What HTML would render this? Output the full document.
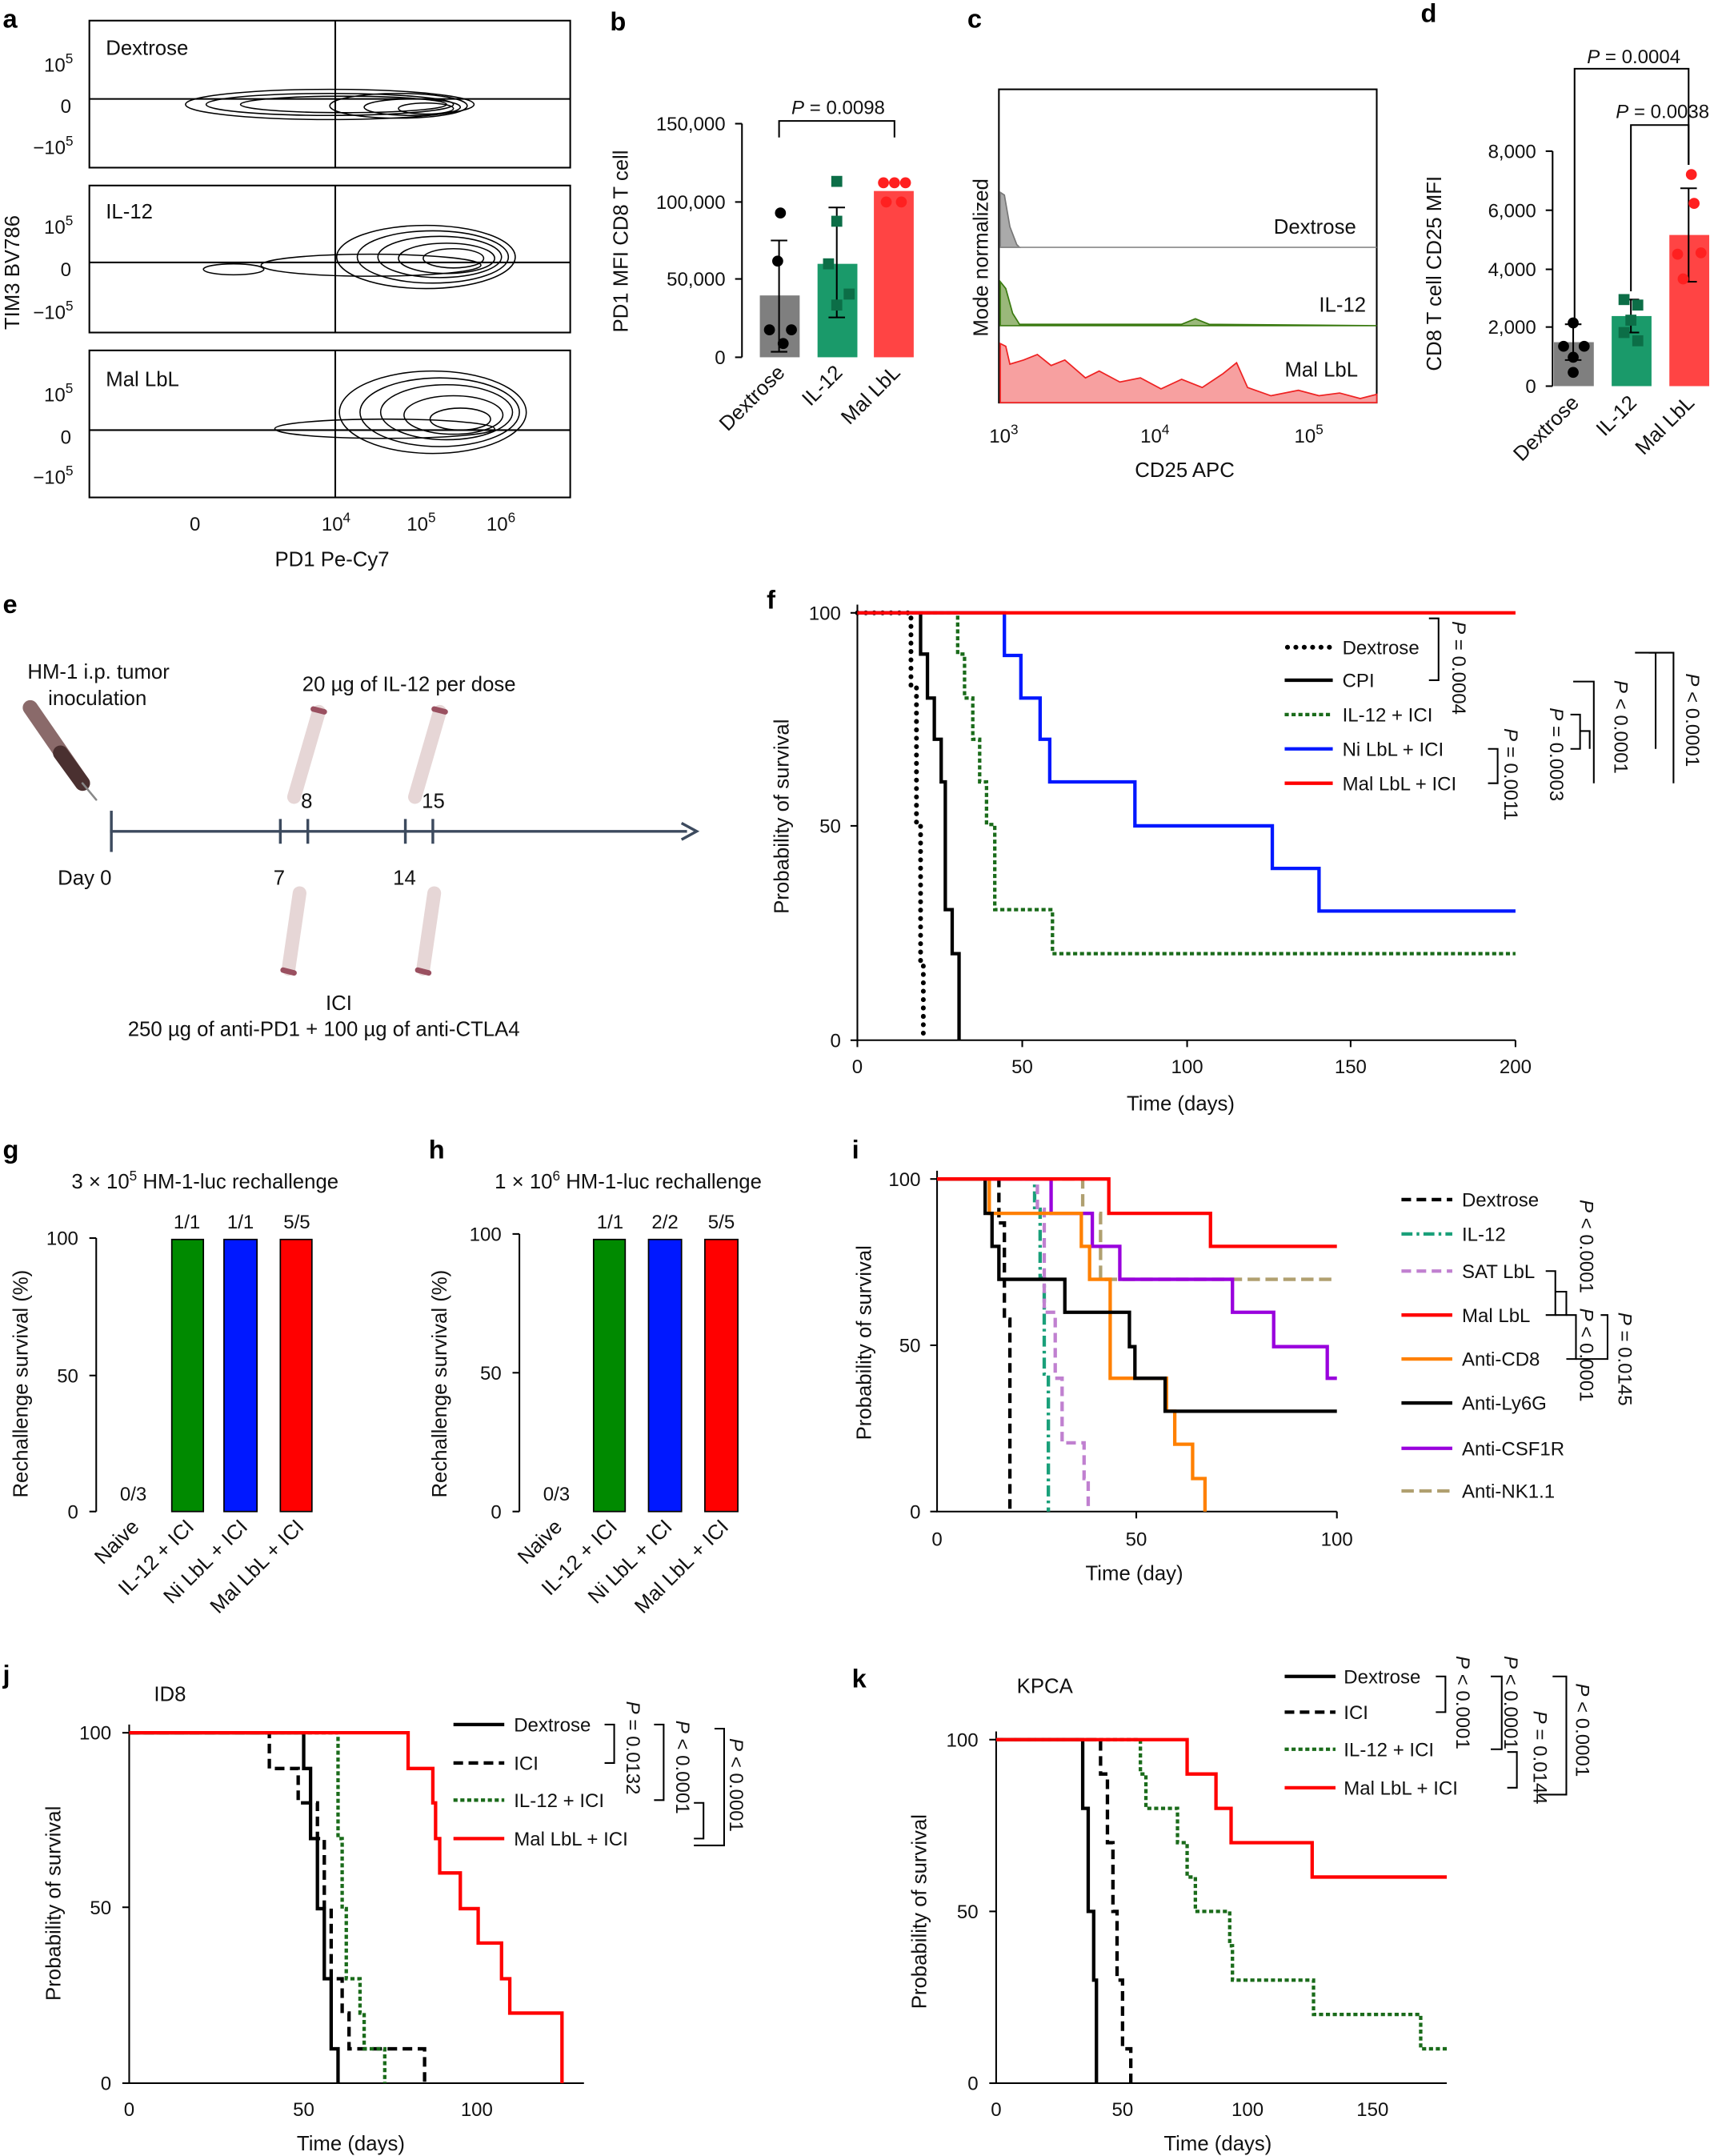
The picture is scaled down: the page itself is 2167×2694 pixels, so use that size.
<!DOCTYPE html>
<html><head><meta charset="utf-8"><style>
html,body{margin:0;padding:0;background:#fff;}
svg{display:block;font-family:"Liberation Sans",sans-serif;}
.t{font-size:14px;fill:#111}
.l{font-size:15px;fill:#111}
.p{font-size:19px;font-weight:bold;fill:#000}
.ax{stroke:#000;stroke-width:1.2;fill:none}
</style></head><body>
<svg width="2167" height="2694" viewBox="0 0 1262 1569" xmlns="http://www.w3.org/2000/svg">
<text class="p" x="2" y="20">a</text><text class="p" x="444" y="22">b</text><text class="p" x="704" y="20">c</text><text class="p" x="1034" y="16">d</text>
<text class="p" x="2" y="446">e</text><text class="p" x="558" y="443">f</text><text class="p" x="2" y="843">g</text><text class="p" x="312" y="843">h</text>
<text class="p" x="620" y="843">i</text><text class="p" x="2" y="1225">j</text><text class="p" x="620" y="1228">k</text>

<g>
<rect x="65" y="15" width="350" height="107" class="ax"/>
<rect x="65" y="135" width="350" height="107" class="ax"/>
<rect x="65" y="255" width="350" height="107" class="ax"/>
<line x1="65" y1="72" x2="415" y2="72" class="ax"/><line x1="244" y1="15" x2="244" y2="122" class="ax"/>
<line x1="65" y1="191" x2="415" y2="191" class="ax"/><line x1="244" y1="135" x2="244" y2="242" class="ax"/>
<line x1="65" y1="313" x2="415" y2="313" class="ax"/><line x1="244" y1="255" x2="244" y2="362" class="ax"/>
<text class="l" x="77" y="40">Dextrose</text><text class="l" x="77" y="159">IL-12</text><text class="l" x="77" y="281">Mal LbL</text>
<g fill="none" stroke="#000" stroke-width="0.9">
<ellipse cx="240" cy="76" rx="105" ry="11"/><ellipse cx="240" cy="76" rx="90" ry="8"/><ellipse cx="250" cy="76" rx="75" ry="6"/><ellipse cx="290" cy="77" rx="50" ry="9"/><ellipse cx="300" cy="78" rx="35" ry="6"/><ellipse cx="310" cy="79" rx="20" ry="4"/>
<ellipse cx="310" cy="187" rx="65" ry="23"/><ellipse cx="315" cy="187" rx="55" ry="19"/><ellipse cx="320" cy="187" rx="45" ry="15"/><ellipse cx="325" cy="188" rx="35" ry="11"/><ellipse cx="330" cy="188" rx="22" ry="7"/><ellipse cx="170" cy="196" rx="22" ry="4"/><ellipse cx="270" cy="193" rx="80" ry="8"/>
<ellipse cx="315" cy="300" rx="68" ry="30"/><ellipse cx="320" cy="300" rx="58" ry="25"/><ellipse cx="325" cy="300" rx="48" ry="20"/><ellipse cx="330" cy="302" rx="36" ry="14"/><ellipse cx="335" cy="305" rx="22" ry="8"/><ellipse cx="280" cy="312" rx="80" ry="7"/>
</g>
<g class="t"><text x="32" y="52">10<tspan font-size="10" dy="-6">5</tspan></text><text x="44" y="82">0</text><text x="24" y="112">−10<tspan font-size="10" dy="-6">5</tspan></text>
<text x="32" y="170">10<tspan font-size="10" dy="-6">5</tspan></text><text x="44" y="201">0</text><text x="24" y="232">−10<tspan font-size="10" dy="-6">5</tspan></text>
<text x="32" y="292">10<tspan font-size="10" dy="-6">5</tspan></text><text x="44" y="323">0</text><text x="24" y="352">−10<tspan font-size="10" dy="-6">5</tspan></text>
<text x="138" y="386">0</text><text x="234" y="386">10<tspan font-size="10" dy="-6">4</tspan></text><text x="296" y="386">10<tspan font-size="10" dy="-6">5</tspan></text><text x="354" y="386">10<tspan font-size="10" dy="-6">6</tspan></text></g>
<text class="l" x="200" y="412">PD1 Pe-Cy7</text>
<text class="l" transform="translate(14,240) rotate(-90)">TIM3 BV786</text>
</g>

<g>
<line x1="540" y1="90" x2="540" y2="260" class="ax"/>
<g class="ax"><line x1="535" y1="90" x2="540" y2="90"/><line x1="535" y1="147" x2="540" y2="147"/><line x1="535" y1="203" x2="540" y2="203"/><line x1="535" y1="260" x2="540" y2="260"/></g>
<g class="t" text-anchor="end"><text x="528" y="95">150,000</text><text x="528" y="152">100,000</text><text x="528" y="208">50,000</text><text x="528" y="265">0</text></g>
<rect x="553" y="215" width="29" height="45" fill="#7f7f7f"/><rect x="595" y="192" width="29" height="68" fill="#1a9a6a"/><rect x="636" y="139" width="29" height="121" fill="#ff4444"/>
<g stroke="#000" stroke-width="1.2"><line x1="567" y1="175" x2="567" y2="256"/><line x1="561" y1="175" x2="573" y2="175"/><line x1="561" y1="256" x2="573" y2="256"/>
<line x1="609" y1="151" x2="609" y2="231"/><line x1="603" y1="151" x2="615" y2="151"/><line x1="603" y1="231" x2="615" y2="231"/></g>
<g fill="#000"><circle cx="568" cy="155" r="4"/><circle cx="566" cy="190" r="4"/><circle cx="560" cy="240" r="4"/><circle cx="576" cy="240" r="4"/><circle cx="570" cy="250" r="4"/></g>
<g fill="#0c6e47"><rect x="605" y="128" width="8" height="8"/><rect x="605" y="157" width="8" height="8"/><rect x="599" y="188" width="8" height="8"/><rect x="614" y="210" width="8" height="8"/><rect x="605" y="218" width="8" height="8"/></g>
<g fill="#ff2020"><circle cx="643" cy="133" r="4"/><circle cx="651" cy="133" r="4"/><circle cx="659" cy="133" r="4"/><circle cx="645" cy="147" r="4"/><circle cx="656" cy="147" r="4"/></g>
<path d="M567 100 V88 H651 V100" class="ax"/><text class="t" x="576" y="83"><tspan font-style="italic">P</tspan> = 0.0098</text>
<g class="l"><text transform="translate(572,272) rotate(-45)" text-anchor="end">Dextrose</text><text transform="translate(614,272) rotate(-45)" text-anchor="end">IL-12</text><text transform="translate(656,272) rotate(-45)" text-anchor="end">Mal LbL</text></g>
<text class="l" transform="translate(457,242) rotate(-90)">PD1 MFI CD8 T cell</text>
</g>

<g>
<rect x="727" y="65" width="275" height="228" class="ax"/>
<path d="M728 180 L728 140 L731 142 L735 165 L740 178 L742 180 Z" fill="#aaa" stroke="#777"/>
<line x1="728" y1="180" x2="1002" y2="180" stroke="#888"/>
<path d="M728 237 L728 205 L732 210 L737 228 L742 236 L860 236 L870 232 L880 236 L1002 237 Z" fill="#9ab87a" stroke="#3a7a10"/>
<path d="M728 293 L728 250 L732 252 L735 265 L745 262 L755 258 L765 266 L775 262 L790 275 L800 270 L815 278 L830 275 L845 283 L860 276 L875 282 L890 272 L900 264 L908 282 L925 288 L945 284 L960 288 L975 286 L990 290 L1002 287 L1002 293 Z" fill="#f7a0a0" stroke="#e22"/>
<text class="l" x="927" y="170">Dextrose</text><text class="l" x="960" y="227">IL-12</text><text class="l" x="935" y="274">Mal LbL</text>
<g class="t"><text x="720" y="322">10<tspan font-size="10" dy="-6">3</tspan></text><text x="830" y="322">10<tspan font-size="10" dy="-6">4</tspan></text><text x="942" y="322">10<tspan font-size="10" dy="-6">5</tspan></text></g>
<text class="l" x="826" y="347">CD25 APC</text>
<text class="l" transform="translate(719,245) rotate(-90)">Mode normalized</text>
</g>

<g>
<line x1="1130" y1="110" x2="1130" y2="281" class="ax"/>
<g class="ax"><line x1="1125" y1="110" x2="1130" y2="110"/><line x1="1125" y1="153" x2="1130" y2="153"/><line x1="1125" y1="196" x2="1130" y2="196"/><line x1="1125" y1="238" x2="1130" y2="238"/><line x1="1125" y1="281" x2="1130" y2="281"/></g>
<g class="t" text-anchor="end"><text x="1118" y="115">8,000</text><text x="1118" y="158">6,000</text><text x="1118" y="201">4,000</text><text x="1118" y="243">2,000</text><text x="1118" y="286">0</text></g>
<rect x="1131" y="249" width="29" height="32" fill="#7f7f7f"/><rect x="1173" y="230" width="29" height="51" fill="#1a9a6a"/><rect x="1215" y="171" width="29" height="110" fill="#ff4444"/>
<g stroke="#000" stroke-width="1.2"><line x1="1145" y1="236" x2="1145" y2="262"/><line x1="1139" y1="236" x2="1151" y2="236"/><line x1="1139" y1="262" x2="1151" y2="262"/>
<line x1="1187" y1="218" x2="1187" y2="242"/><line x1="1181" y1="218" x2="1193" y2="218"/><line x1="1181" y1="242" x2="1193" y2="242"/>
<line x1="1229" y1="137" x2="1229" y2="205"/><line x1="1223" y1="137" x2="1235" y2="137"/><line x1="1223" y1="205" x2="1235" y2="205"/></g>
<g fill="#000"><circle cx="1145" cy="235" r="4"/><circle cx="1138" cy="252" r="4"/><circle cx="1153" cy="252" r="4"/><circle cx="1145" cy="260" r="4"/><circle cx="1145" cy="271" r="4"/></g>
<g fill="#0c6e47"><rect x="1178" y="214" width="8" height="8"/><rect x="1188" y="218" width="8" height="8"/><rect x="1183" y="229" width="8" height="8"/><rect x="1178" y="238" width="8" height="8"/><rect x="1188" y="244" width="8" height="8"/></g>
<g fill="#ff2020"><circle cx="1231" cy="127" r="4"/><circle cx="1233" cy="148" r="4"/><circle cx="1221" cy="185" r="4"/><circle cx="1238" cy="184" r="4"/><circle cx="1225" cy="203" r="4"/></g>
<path d="M1146 232 V50 H1229 V120" class="ax"/><path d="M1187 212 V91 H1229 V120" class="ax"/>
<text class="t" x="1155" y="46"><tspan font-style="italic">P</tspan> = 0.0004</text><text class="t" x="1176" y="86"><tspan font-style="italic">P</tspan> = 0.0038</text>
<g class="l"><text transform="translate(1150,294) rotate(-45)" text-anchor="end">Dextrose</text><text transform="translate(1192,294) rotate(-45)" text-anchor="end">IL-12</text><text transform="translate(1234,294) rotate(-45)" text-anchor="end">Mal LbL</text></g>
<text class="l" transform="translate(1049,270) rotate(-90)">CD8 T cell CD25 MFI</text>
</g>

<g>
<line x1="80" y1="605" x2="500" y2="605" stroke="#3c4a5e" stroke-width="2"/><path d="M496 599 L507 605 L496 611" fill="none" stroke="#3c4a5e" stroke-width="2"/>
<g stroke="#3c4a5e" stroke-width="2"><line x1="81" y1="590" x2="81" y2="620"/><line x1="204" y1="596" x2="204" y2="614"/><line x1="224" y1="596" x2="224" y2="614"/><line x1="295" y1="596" x2="295" y2="614"/><line x1="315" y1="596" x2="315" y2="614"/></g>
<text class="l" x="42" y="644">Day 0</text><text class="l" x="199" y="644">7</text><text class="l" x="219" y="588">8</text><text class="l" x="286" y="644">14</text><text class="l" x="307" y="588">15</text>
<text class="l" x="20" y="494">HM-1 i.p. tumor</text><text class="l" x="35" y="513">inoculation</text>
<text class="l" x="220" y="503">20 µg of IL-12 per dose</text>
<text class="l" x="237" y="735">ICI</text><text class="l" x="93" y="754">250 µg of anti-PD1 + 100 µg of anti-CTLA4</text>
<g stroke-linecap="round">
<line x1="22" y1="515" x2="60" y2="570" stroke="#8a6a6a" stroke-width="11"/><line x1="44" y1="548" x2="60" y2="570" stroke="#4a3030" stroke-width="11"/><line x1="60" y1="570" x2="70" y2="582" stroke="#888" stroke-width="1.5"/>
<line x1="232" y1="518" x2="214" y2="580" stroke="#e6d6d6" stroke-width="10"/><line x1="228" y1="516" x2="236" y2="518" stroke="#9a5060" stroke-width="4"/>
<line x1="320" y1="518" x2="302" y2="580" stroke="#e6d6d6" stroke-width="10"/><line x1="316" y1="516" x2="324" y2="518" stroke="#9a5060" stroke-width="4"/>
<line x1="218" y1="650" x2="210" y2="705" stroke="#e6d6d6" stroke-width="10"/><line x1="206" y1="706" x2="214" y2="708" stroke="#9a5060" stroke-width="4"/>
<line x1="316" y1="650" x2="308" y2="705" stroke="#e6d6d6" stroke-width="10"/><line x1="304" y1="706" x2="312" y2="708" stroke="#9a5060" stroke-width="4"/>
</g>
</g>

<g>
<path d="M624 440 V757 H1103" class="ax"/>
<g class="ax"><line x1="619" y1="446" x2="624" y2="446"/><line x1="619" y1="601" x2="624" y2="601"/><line x1="619" y1="757" x2="624" y2="757"/>
<line x1="624" y1="757" x2="624" y2="762"/><line x1="744" y1="757" x2="744" y2="762"/><line x1="864" y1="757" x2="864" y2="762"/><line x1="983" y1="757" x2="983" y2="762"/><line x1="1103" y1="757" x2="1103" y2="762"/></g>
<g class="t" text-anchor="end"><text x="612" y="451">100</text><text x="612" y="606">50</text><text x="612" y="762">0</text></g>
<g class="t" text-anchor="middle"><text x="624" y="781">0</text><text x="744" y="781">50</text><text x="864" y="781">100</text><text x="983" y="781">150</text><text x="1103" y="781">200</text></g>
<text class="l" x="820" y="808">Time (days)</text><text class="l" transform="translate(574,665) rotate(-90)">Probability of survival</text>
<g fill="none" stroke-width="2.5">
<path d="M624 446 H663 V500 H667 V600 H670 V700 H672 V757" stroke="#000" stroke-width="3.5" stroke-linecap="round" stroke-dasharray="0.1,6"/>
<path d="M624 446 H670 V476 H675 V508 H680 V538 H685 V569 H688 V662 H693 V694 H698 V757" stroke="#000"/>
<path d="M624 446 H697 V476 H702 V508 H708 V538 H713 V569 H718 V600 H724 V662 H766 V694 H1103" stroke="#1a6b1a" stroke-dasharray="3,2"/>
<path d="M624 446 H731 V477 H743 V508 H757 V538 H764 V569 H826 V601 H926 V632 H960 V663 H1103" stroke="#0018ff"/>
<path d="M624 446 H1103" stroke="#ff0000"/>
</g>
<g stroke-width="2.5"><line x1="937" y1="471" x2="970" y2="471" stroke="#000" stroke-width="3.5" stroke-linecap="round" stroke-dasharray="0.1,6"/><line x1="935" y1="495" x2="970" y2="495" stroke="#000"/><line x1="935" y1="520" x2="970" y2="520" stroke="#1a6b1a" stroke-dasharray="3,2"/><line x1="935" y1="545" x2="970" y2="545" stroke="#0018ff"/><line x1="935" y1="570" x2="970" y2="570" stroke="#ff0000"/></g>
<g class="t"><text x="977" y="476">Dextrose</text><text x="977" y="500">CPI</text><text x="977" y="525">IL-12 + ICI</text><text x="977" y="550">Ni LbL + ICI</text><text x="977" y="575">Mal LbL + ICI</text></g>
<g class="ax"><path d="M1040 450 H1047 V495 H1040"/><path d="M1083 545 H1090 V570 H1083"/><path d="M1143 520 H1150 V545 H1143"/><path d="M1150 532 H1157 V545"/><path d="M1145 496 H1160 V570"/><path d="M1190 475 H1205 V545"/><path d="M1200 475 H1218 V570"/></g>
<g class="t"><text transform="translate(1057,452) rotate(90)"><tspan font-style="italic">P</tspan> = 0.0004</text><text transform="translate(1095,530) rotate(90)"><tspan font-style="italic">P</tspan> = 0.0011</text><text transform="translate(1128,515) rotate(90)"><tspan font-style="italic">P</tspan> = 0.0003</text><text transform="translate(1175,495) rotate(90)"><tspan font-style="italic">P</tspan> &lt; 0.0001</text><text transform="translate(1227,490) rotate(90)"><tspan font-style="italic">P</tspan> &lt; 0.0001</text></g>
</g>

<g>
<text class="l" x="52" y="865">3 × 10<tspan font-size="10" dy="-6">5</tspan><tspan dy="6"> HM-1-luc rechallenge</tspan></text>
<line x1="70" y1="901" x2="70" y2="1100" class="ax"/>
<g class="ax"><line x1="65" y1="901" x2="70" y2="901"/><line x1="65" y1="1001" x2="70" y2="1001"/><line x1="65" y1="1100" x2="70" y2="1100"/></g>
<g class="t" text-anchor="end"><text x="57" y="906">100</text><text x="57" y="1006">50</text><text x="57" y="1105">0</text></g>
<rect x="125" y="902" width="23" height="198" fill="#008a00" stroke="#000"/><rect x="163" y="902" width="24" height="198" fill="#0018ff" stroke="#000"/><rect x="204" y="902" width="23" height="198" fill="#ff0000" stroke="#000"/>
<g class="t" text-anchor="middle"><text x="97" y="1092">0/3</text><text x="136" y="894">1/1</text><text x="175" y="894">1/1</text><text x="216" y="894">5/5</text></g>
<g class="l" text-anchor="end"><text transform="translate(102,1112) rotate(-45)">Naive</text><text transform="translate(142,1112) rotate(-45)">IL-12 + ICI</text><text transform="translate(181,1112) rotate(-45)">Ni LbL + ICI</text><text transform="translate(222,1112) rotate(-45)">Mal LbL + ICI</text></g>
<text class="l" transform="translate(20,1090) rotate(-90)">Rechallenge survival (%)</text>
</g>

<g>
<text class="l" x="360" y="865">1 × 10<tspan font-size="10" dy="-6">6</tspan><tspan dy="6"> HM-1-luc rechallenge</tspan></text>
<line x1="378" y1="898" x2="378" y2="1100" class="ax"/>
<g class="ax"><line x1="373" y1="898" x2="378" y2="898"/><line x1="373" y1="999" x2="378" y2="999"/><line x1="373" y1="1100" x2="378" y2="1100"/></g>
<g class="t" text-anchor="end"><text x="365" y="903">100</text><text x="365" y="1004">50</text><text x="365" y="1105">0</text></g>
<rect x="432" y="902" width="23" height="198" fill="#008a00" stroke="#000"/><rect x="472" y="902" width="24" height="198" fill="#0018ff" stroke="#000"/><rect x="513" y="902" width="24" height="198" fill="#ff0000" stroke="#000"/>
<g class="t" text-anchor="middle"><text x="405" y="1092">0/3</text><text x="444" y="894">1/1</text><text x="484" y="894">2/2</text><text x="525" y="894">5/5</text></g>
<g class="l" text-anchor="end"><text transform="translate(410,1112) rotate(-45)">Naive</text><text transform="translate(450,1112) rotate(-45)">IL-12 + ICI</text><text transform="translate(490,1112) rotate(-45)">Ni LbL + ICI</text><text transform="translate(531,1112) rotate(-45)">Mal LbL + ICI</text></g>
<text class="l" transform="translate(325,1090) rotate(-90)">Rechallenge survival (%)</text>
</g>

<g>
<path d="M682 852 V1100 H973" class="ax"/>
<g class="ax"><line x1="677" y1="858" x2="682" y2="858"/><line x1="677" y1="979" x2="682" y2="979"/><line x1="677" y1="1100" x2="682" y2="1100"/><line x1="827" y1="1100" x2="827" y2="1105"/><line x1="973" y1="1100" x2="973" y2="1105"/></g>
<g class="t" text-anchor="end"><text x="670" y="863">100</text><text x="670" y="984">50</text><text x="670" y="1105">0</text></g>
<g class="t" text-anchor="middle"><text x="682" y="1125">0</text><text x="827" y="1125">50</text><text x="973" y="1125">100</text></g>
<text class="l" x="790" y="1150">Time (day)</text><text class="l" transform="translate(634,1048) rotate(-90)">Probability of survival</text>
<g fill="none" stroke-width="2.5">
<path d="M682 858 H727 V890 H731 V960 H735 V1100" stroke="#000" stroke-dasharray="7,4"/>
<path d="M682 858 H753 V880 H757 V930 H760 V1000 H763 V1100" stroke="#1aa07a" stroke-dasharray="8,3,2,3"/>
<path d="M682 858 H755 V880 H760 V955 H768 V1003 H773 V1050 H789 V1076 H792 V1100" stroke="#c080d0" stroke-dasharray="7,4"/>
<path d="M682 858 H788 V883 H801 V931 H973" stroke="#b0a070" stroke-dasharray="9,4"/>
<path d="M682 858 H765 V883 H795 V907 H815 V931 H897 V955 H927 V980 H966 V1003 H973" stroke="#9900dd"/>
<path d="M682 858 H720 V883 H787 V907 H793 V931 H808 V1003 H849 V1027 H855 V1051 H868 V1076 H877 V1100" stroke="#ff8000"/>
<path d="M682 858 H717 V883 H722 V907 H727 V931 H775 V955 H822 V980 H826 V1003 H848 V1027 H973" stroke="#000"/>
<path d="M682 858 H807 V883 H881 V907 H973" stroke="#ff0000"/>
</g>
<g stroke-width="2.5"><line x1="1020" y1="873" x2="1057" y2="873" stroke="#000" stroke-dasharray="7,4"/><line x1="1020" y1="898" x2="1057" y2="898" stroke="#1aa07a" stroke-dasharray="8,3,2,3"/><line x1="1020" y1="925" x2="1057" y2="925" stroke="#c080d0" stroke-dasharray="7,4"/><line x1="1020" y1="957" x2="1057" y2="957" stroke="#ff0000"/><line x1="1020" y1="989" x2="1057" y2="989" stroke="#ff8000"/><line x1="1020" y1="1021" x2="1057" y2="1021" stroke="#000"/><line x1="1020" y1="1054" x2="1057" y2="1054" stroke="#9900dd"/><line x1="1020" y1="1085" x2="1057" y2="1085" stroke="#b0a070" stroke-dasharray="9,4"/></g>
<g class="t"><text x="1064" y="878">Dextrose</text><text x="1064" y="903">IL-12</text><text x="1064" y="930">SAT LbL</text><text x="1064" y="962">Mal LbL</text><text x="1064" y="994">Anti-CD8</text><text x="1064" y="1026">Anti-Ly6G</text><text x="1064" y="1059">Anti-CSF1R</text><text x="1064" y="1090">Anti-NK1.1</text></g>
<g class="ax"><path d="M1125 925 H1132 V957 H1125"/><path d="M1132 940 H1140 V957 H1132"/><path d="M1140 957 H1147 V989 H1140"/><path d="M1147 989 H1170 V957 H1165"/></g>
<g class="t"><text transform="translate(1150,873) rotate(90)"><tspan font-style="italic">P</tspan> &lt; 0.0001</text><text transform="translate(1150,952) rotate(90)"><tspan font-style="italic">P</tspan> &lt; 0.0001</text><text transform="translate(1178,955) rotate(90)"><tspan font-style="italic">P</tspan> = 0.0145</text></g>
</g>

<g>
<text class="l" x="112" y="1238">ID8</text>
<path d="M94 1255 V1516 H425" class="ax"/>
<g class="ax"><line x1="89" y1="1261" x2="94" y2="1261"/><line x1="89" y1="1388" x2="94" y2="1388"/><line x1="89" y1="1516" x2="94" y2="1516"/></g>
<g class="t" text-anchor="end"><text x="81" y="1266">100</text><text x="81" y="1393">50</text><text x="81" y="1521">0</text></g>
<g class="t" text-anchor="middle"><text x="94" y="1540">0</text><text x="221" y="1540">50</text><text x="347" y="1540">100</text></g>
<text class="l" x="216" y="1565">Time (days)</text><text class="l" transform="translate(44,1456) rotate(-90)">Probability of survival</text>
<g fill="none" stroke-width="2.5">
<path d="M94 1261 H221 V1287 H226 V1338 H231 V1389 H236 V1440 H241 V1491 H246 V1516" stroke="#000"/>
<path d="M94 1261 H196 V1287 H217 V1312 H231 V1338 H236 V1389 H241 V1440 H249 V1465 H254 V1491 H309 V1516" stroke="#000" stroke-dasharray="7,4"/>
<path d="M94 1261 H246 V1338 H249 V1389 H252 V1440 H262 V1465 H265 V1491 H280 V1516" stroke="#1a6b1a" stroke-dasharray="3,2"/>
<path d="M94 1261 H297 V1287 H315 V1312 H317 V1338 H320 V1363 H335 V1389 H348 V1414 H365 V1440 H371 V1465 H409 V1516" stroke="#ff0000"/>
</g>
<g stroke-width="2.5"><line x1="330" y1="1255" x2="367" y2="1255" stroke="#000"/><line x1="330" y1="1283" x2="367" y2="1283" stroke="#000" stroke-dasharray="7,4"/><line x1="330" y1="1310" x2="367" y2="1310" stroke="#1a6b1a" stroke-dasharray="3,2"/><line x1="330" y1="1338" x2="367" y2="1338" stroke="#ff0000"/></g>
<g class="t"><text x="374" y="1260">Dextrose</text><text x="374" y="1288">ICI</text><text x="374" y="1315">IL-12 + ICI</text><text x="374" y="1343">Mal LbL + ICI</text></g>
<g class="ax"><path d="M440 1255 H447 V1283 H440"/><path d="M476 1255 H483 V1310 H476"/><path d="M505 1312 H512 V1338 H505"/><path d="M520 1258 H527 V1343 H505"/></g>
<g class="t"><text transform="translate(456,1238) rotate(90)"><tspan font-style="italic">P</tspan> = 0.0132</text><text transform="translate(492,1252) rotate(90)"><tspan font-style="italic">P</tspan> &lt; 0.0001</text><text transform="translate(531,1265) rotate(90)"><tspan font-style="italic">P</tspan> &lt; 0.0001</text></g>
</g>

<g>
<text class="l" x="740" y="1232">KPCA</text>
<path d="M725 1260 V1516 H1053" class="ax"/>
<g class="ax"><line x1="720" y1="1266" x2="725" y2="1266"/><line x1="720" y1="1391" x2="725" y2="1391"/><line x1="720" y1="1516" x2="725" y2="1516"/></g>
<g class="t" text-anchor="end"><text x="712" y="1271">100</text><text x="712" y="1396">50</text><text x="712" y="1521">0</text></g>
<g class="t" text-anchor="middle"><text x="725" y="1540">0</text><text x="817" y="1540">50</text><text x="908" y="1540">100</text><text x="999" y="1540">150</text></g>
<text class="l" x="847" y="1565">Time (days)</text><text class="l" transform="translate(674,1462) rotate(-90)">Probability of survival</text>
<g fill="none" stroke-width="2.5">
<path d="M725 1266 H788 V1316 H792 V1391 H796 V1441 H798 V1516" stroke="#000"/>
<path d="M725 1266 H801 V1291 H806 V1341 H810 V1391 H813 V1441 H817 V1491 H823 V1516" stroke="#000" stroke-dasharray="7,4"/>
<path d="M725 1266 H830 V1291 H834 V1316 H857 V1341 H864 V1366 H870 V1391 H895 V1416 H897 V1441 H956 V1466 H1034 V1491 H1053" stroke="#1a6b1a" stroke-dasharray="3,2"/>
<path d="M725 1266 H864 V1291 H885 V1316 H896 V1341 H955 V1366 H1053" stroke="#ff0000"/>
</g>
<g stroke-width="2.5"><line x1="935" y1="1220" x2="972" y2="1220" stroke="#000"/><line x1="935" y1="1246" x2="972" y2="1246" stroke="#000" stroke-dasharray="7,4"/><line x1="935" y1="1273" x2="972" y2="1273" stroke="#1a6b1a" stroke-dasharray="3,2"/><line x1="935" y1="1301" x2="972" y2="1301" stroke="#ff0000"/></g>
<g class="t"><text x="978" y="1225">Dextrose</text><text x="978" y="1251">ICI</text><text x="978" y="1278">IL-12 + ICI</text><text x="978" y="1306">Mal LbL + ICI</text></g>
<g class="ax"><path d="M1045 1220 H1052 V1246 H1045"/><path d="M1085 1220 H1093 V1273 H1085"/><path d="M1097 1275 H1104 V1301 H1097"/><path d="M1130 1220 H1140 V1306 H1120"/></g>
<g class="t"><text transform="translate(1060,1205) rotate(90)"><tspan font-style="italic">P</tspan> &lt; 0.0001</text><text transform="translate(1095,1205) rotate(90)"><tspan font-style="italic">P</tspan> &lt; 0.0001</text><text transform="translate(1116,1245) rotate(90)"><tspan font-style="italic">P</tspan> = 0.0144</text><text transform="translate(1147,1225) rotate(90)"><tspan font-style="italic">P</tspan> &lt; 0.0001</text></g>
</g>
</svg>
</body></html>
